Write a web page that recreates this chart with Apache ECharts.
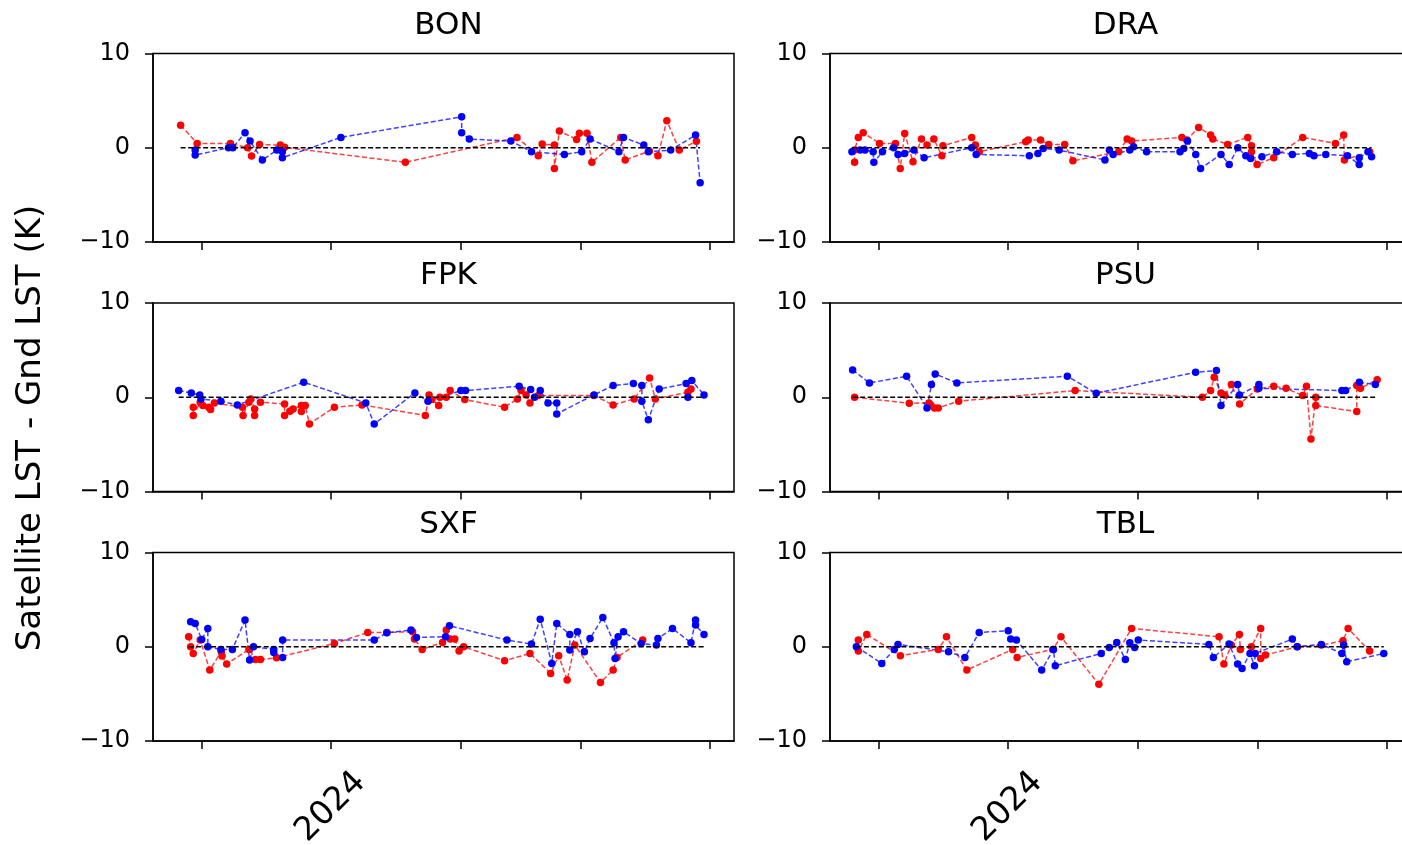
<!DOCTYPE html>
<html>
<head>
<meta charset="utf-8">
<title>Satellite LST - Gnd LST</title>
<script src="https://cdn.jsdelivr.net/npm/echarts@6/dist/echarts.min.js"></script>
<style>
  html, body { margin: 0; padding: 0; background: #fff; }
  #chart { width: 1402px; height: 845px; }
</style>
</head>
<body>
<div id="chart"></div>
<script>
// days are counted from 2024-01-01, values in K
var stations = ['BON', 'DRA', 'FPK', 'PSU', 'SXF', 'TBL'];

var bonRed = [[-108.3, 2.4], [-96.4, 0.46], [-72.4, 0.46], [-60.0, 0.0], [-57.2, -0.88], [-51.4, 0.35], [-36.5, 0.28], [-33.4, 0.04], [53.6, -1.55], [134.0, 1.1], [149.4, -0.85], [152.2, 0.39], [161.0, 0.28], [161.0, -2.2], [164.6, 1.77], [177.0, 0.88], [179.0, 1.55], [184.5, 1.55], [188.0, -1.55], [208.8, 1.1], [212.0, -1.3], [229.4, -0.35], [235.6, -0.85], [242.0, 2.86], [251.0, -0.25], [263.3, 0.7]];
var bonBlue = [[-97.8, -0.25], [-97.8, -0.78], [-73.8, 0.0], [-70.7, 0.0], [-61.9, 1.59], [-58.3, 0.71], [-49.4, -1.3], [-39.0, -0.25], [-35.0, -0.42], [-35.0, -1.06], [7.2, 1.1], [94.2, 3.29], [94.2, 1.59], [99.7, 0.92], [129.6, 0.71], [144.5, -0.42], [168.2, -0.71], [180.7, -0.42], [186.7, 0.92], [207.5, -0.42], [210.8, 1.1], [225.4, 0.28], [228.7, -0.42], [244.8, -0.25], [262.7, 1.34], [266.0, -3.71]];

var draRed = [[-110.5, -1.55], [-110.5, -0.25], [-107.8, 1.1], [-104.3, 1.59], [-92.5, 0.46], [-81.0, 0.46], [-77.6, -2.2], [-74.4, 1.52], [-68.4, -1.48], [-62.3, 0.92], [-58.3, 0.28], [-53.4, 0.92], [-47.6, -0.85], [-46.8, 0.21], [-26.1, 1.1], [-23.4, 0.28], [-20.7, -0.42], [12.8, 0.64], [14.6, 0.81], [23.5, 0.81], [29.4, 0.35], [40.9, 0.35], [46.8, -1.38], [79.8, -0.42], [85.9, 0.92], [89.1, 0.71], [125.3, 1.1], [128.8, 0.81], [137.4, 2.16], [146.0, 1.34], [147.6, 0.92], [158.3, 0.35], [172.8, 1.1], [175.5, 0.21], [175.5, -0.42], [179.5, -1.77], [191.5, -1.06], [212.4, 1.1], [236.0, 0.46], [241.9, 1.34], [242.4, -1.3], [260.6, -0.42]];
var draBlue = [[-112.4, -0.42], [-106.5, -0.25], [-103.0, -0.25], [-97.1, -0.42], [-96.6, -1.55], [-90.4, -0.42], [-82.4, 0.0], [-79.2, -0.71], [-74.4, -0.6], [-67.7, -0.25], [-60.4, -1.06], [-26.1, 0.0], [-22.9, -0.71], [15.4, -0.85], [21.6, -0.6], [25.4, -0.07], [36.9, -0.25], [69.9, -1.3], [73.1, -0.25], [75.8, -0.71], [87.8, -0.25], [90.5, 0.1], [99.9, -0.42], [124.0, -0.42], [126.7, -0.07], [129.4, 0.71], [135.3, -0.71], [138.8, -2.2], [153.5, -0.71], [159.4, -1.77], [165.6, 0.0], [171.4, -0.85], [174.9, -1.13], [183.0, -0.95], [193.6, -0.42], [204.9, -0.71], [217.2, -0.6], [220.5, -0.85], [229.0, -0.71], [244.6, -0.85], [253.1, -1.77], [253.1, -1.06], [259.4, -0.42], [262.0, -0.95]];

var fpkRed = [[-99.2, -1.06], [-99.2, -1.94], [-94.2, -0.53], [-92.3, -0.88], [-88.1, -1.06], [-86.7, -1.31], [-84.0, -0.6], [-63.8, -1.06], [-63.3, -1.94], [-59.1, -0.53], [-57.7, -0.18], [-55.0, -1.24], [-55.0, -1.94], [-50.8, -0.53], [-33.4, -0.71], [-33.4, -1.94], [-29.6, -1.48], [-27.3, -1.24], [-21.3, -0.88], [-21.3, -1.52], [-18.5, -0.88], [-15.5, -2.83], [2.5, -1.06], [22.4, -0.81], [68.0, -1.94], [70.7, 0.25], [72.7, -0.25], [77.6, -0.88], [78.5, 0.0], [83.1, 0.0], [85.9, 0.71], [96.4, -0.25], [125.1, -1.06], [134.3, -0.18], [137.0, 0.71], [140.6, 0.25], [143.4, -0.6], [149.4, 0.18], [189.5, 0.18], [203.3, -0.81], [218.5, -0.18], [229.6, 2.05], [233.7, -0.18], [257.2, 0.53], [259.4, 0.88]];
var fpkBlue = [[-109.7, 0.71], [-100.6, 0.46], [-94.5, 0.25], [-93.6, -0.18], [-79.3, -0.42], [-67.4, -0.81], [-19.6, 1.59], [25.1, -0.6], [31.2, -2.83], [60.5, 0.46], [69.9, -0.42], [93.6, 0.71], [97.0, 0.71], [135.6, 1.17], [143.9, 0.81], [146.7, 0.0], [150.8, 0.71], [156.4, -0.6], [162.7, -0.6], [162.7, -1.77], [189.5, 0.25], [203.3, 1.24], [217.9, 1.45], [224.0, 1.24], [224.0, -0.42], [228.7, -2.4], [236.5, 0.88], [255.9, 1.45], [257.2, 0.0], [260.0, 1.77], [268.8, 0.25]];

var psuRed = [[-110.5, 0.0], [-71.1, -0.64], [-56.9, -0.6], [-55.6, -0.81], [-52.9, -1.13], [-50.2, -1.13], [-35.5, -0.42], [48.4, 0.71], [140.1, 0.0], [146.0, 0.71], [148.6, 2.12], [153.5, 0.46], [156.2, 0.25], [161.0, 1.34], [166.9, -0.71], [179.7, 0.88], [191.5, 1.17], [200.4, 0.95], [212.4, 0.18], [215.1, 1.17], [218.3, -4.42], [221.8, 0.0], [221.8, -0.88], [251.3, -1.52], [251.3, 1.24], [254.0, 0.95], [266.0, 1.87]];
var psuBlue = [[-111.9, 2.9], [-99.8, 1.52], [-73.0, 2.23], [-58.3, -1.13], [-55.1, 1.34], [-52.4, 2.47], [-36.8, 1.52], [42.8, 2.23], [63.6, 0.42], [135.2, 2.65], [150.2, 2.83], [153.5, -0.88], [165.5, 1.34], [166.9, 0.25], [180.8, 1.34], [180.8, 0.95], [240.6, 0.71], [243.3, 0.71], [253.2, 1.59], [264.7, 1.34]];

var sxfRed = [[-102.5, 1.06], [-101.1, 0.0], [-99.2, -0.71], [-94.2, 0.71], [-87.3, -2.47], [-79.0, -0.53], [-78.5, -0.99], [-75.1, -1.84], [-59.1, -0.28], [-54.4, -1.34], [-50.8, -1.34], [-39.2, -1.17], [2.5, 0.35], [26.5, 1.52], [40.3, 1.52], [58.8, 1.59], [60.2, 0.81], [65.7, -0.28], [80.4, 0.46], [83.1, 1.77], [85.9, 0.81], [89.2, 0.81], [92.3, -0.46], [95.6, 0.0], [125.1, -1.48], [143.4, -0.71], [158.3, -2.83], [164.1, -0.95], [170.2, -3.53], [175.7, 0.18], [194.2, -3.78], [203.3, -2.47], [206.1, -1.13], [224.6, 0.71]];
var sxfBlue = [[-101.1, 2.65], [-97.8, 2.47], [-93.1, 0.78], [-88.7, 1.94], [-88.7, 0.0], [-79.3, -0.28], [-71.0, -0.28], [-61.9, 2.83], [-58.6, -1.41], [-55.8, 0.0], [-41.2, -0.28], [-41.2, -0.6], [-34.8, -1.13], [-34.8, 0.71], [31.2, 0.71], [40.3, 1.48], [57.7, 1.77], [61.6, 0.99], [82.6, 1.06], [85.4, 2.23], [126.8, 0.71], [144.5, 0.28], [150.8, 2.93], [159.1, -1.77], [162.7, 2.47], [172.1, 1.31], [172.1, -0.35], [177.6, 1.59], [182.6, -0.53], [186.7, 0.88], [195.9, 3.11], [203.9, 0.42], [204.7, -1.24], [206.9, 1.06], [210.8, 1.59], [223.5, 0.35], [234.5, 0.18], [235.6, 0.88], [246.1, 1.94], [259.4, 0.42], [262.7, 2.83], [262.7, 2.3], [268.8, 1.31]];

var tblRed = [[-107.8, 0.71], [-107.8, -0.46], [-101.7, 1.31], [-77.5, -0.95], [-50.2, -0.28], [-44.3, 1.06], [-29.6, -2.47], [3.4, -0.28], [6.6, -1.13], [32.3, -0.28], [38.2, 1.06], [65.5, -3.99], [89.1, 1.94], [152.1, 1.06], [155.6, -1.84], [160.9, 0.18], [166.8, 1.31], [167.4, -0.28], [175.4, 0.0], [182.1, 1.94], [182.1, -1.24], [185.6, -0.88], [208.4, 0.0], [225.8, 0.18], [241.4, 0.64], [245.1, 1.94], [260.6, -0.46]];
var tblBlue = [[-109.2, 0.0], [-90.9, -1.77], [-81.9, -0.28], [-79.2, 0.25], [-42.8, -0.53], [-31.0, -1.13], [-20.7, 1.52], [0.2, 1.7], [2.0, 0.81], [6.1, 0.71], [24.3, -2.47], [32.8, -0.28], [34.1, -2.01], [67.2, -0.71], [73.0, -0.07], [78.4, 0.46], [84.6, -1.34], [87.8, 0.42], [91.3, -0.07], [93.9, 0.71], [144.8, 0.25], [148.0, -1.13], [159.3, 0.28], [165.5, -1.84], [168.7, -2.3], [174.4, -0.71], [177.6, -2.01], [178.1, -0.71], [204.9, 0.81], [208.4, 0.0], [225.8, 0.25], [240.6, -0.71], [241.9, 0.18], [244.1, -1.59], [270.8, -0.71]];

var redSets = [bonRed, draRed, fpkRed, psuRed, sxfRed, tblRed];
var blueSets = [bonBlue, draBlue, fpkBlue, psuBlue, sxfBlue, tblBlue];

// x axis (days from 2024-01-01)
var xMinDay = -128.2;
var xMaxDay = 290.4;
var tickDays = [-93.3, 0, 93.2, 179.9, 272.7];
var labelDays = [0];
var labelText = ['2024'];

var FONT = 'DejaVu Sans';
var colLeft = [153, 830];
var rowTop = [53.5, 303, 552.5];
var W = 581, H = 188.5;

var dom = document.getElementById('chart');
var myChart = echarts.init(dom, null, { renderer: 'canvas' });

var grids = [], xAxes = [], yAxes = [], titles = [], series = [];

stations.forEach(function (name, i) {
  var col = i % 2, row = Math.floor(i / 2);
  grids.push({
    left: colLeft[col], top: rowTop[row], width: W, height: H,
    outerBoundsMode: 'none', containLabel: false,
    show: true, borderColor: '#000', borderWidth: 1.5, backgroundColor: 'transparent'
  });
  titles.push({
    text: name,
    left: colLeft[col] + W / 2,
    top: rowTop[row] - 48,
    textAlign: 'center',
    textStyle: { fontSize: 31, fontWeight: 'normal', color: '#000', fontFamily: FONT }
  });
  xAxes.push({
    type: 'value', gridIndex: i,
    min: xMinDay, max: xMaxDay,
    splitLine: { show: false },
    axisLine: { onZero: false, lineStyle: { color: '#000', width: 1.5 } },
    axisTick: { show: true, length: 8, lineStyle: { color: '#000', width: 1.5 },
      customValues: tickDays },
    axisLabel: {
      show: row === 2,
      customValues: labelDays,
      formatter: function (v) {
        var idx = labelDays.indexOf(v);
        return idx >= 0 ? labelText[idx] : '';
      },
      rotate: 45, align: 'center', verticalAlign: 'middle', margin: 66,
      fontSize: 33, color: '#000', fontFamily: FONT
    }
  });
  yAxes.push({
    type: 'value', gridIndex: i, min: -10, max: 10, interval: 10,
    splitLine: { show: false },
    axisLine: { show: true, onZero: false, lineStyle: { color: '#000', width: 1.5 } },
    axisTick: { show: true, length: 8, lineStyle: { color: '#000', width: 1.5 } },
    axisLabel: {
      fontSize: 24, color: '#000', fontFamily: FONT, margin: 23,
      formatter: function (v) { return String(v).replace('-', '\u2212'); }
    }
  });

  var red = redSets[i], blue = blueSets[i];
  [[red, '#ff0000'], [blue, '#0000ff']].forEach(function (pair) {
    series.push({
      type: 'line', xAxisIndex: i, yAxisIndex: i,
      data: pair[0],
      symbol: 'circle', symbolSize: 7.5, showSymbol: true,
      itemStyle: { color: pair[1] },
      lineStyle: { color: pair[1], width: 1.5, type: [5, 2.5], opacity: 0.75 },
      emphasis: { disabled: true },
      z: 2
    });
  });

  // zero reference line over the span of both series
  var allDays = red.concat(blue).map(function (p) { return p[0]; });
  var d0 = Math.min.apply(null, allDays), d1 = Math.max.apply(null, allDays);
  series.push({
    type: 'line', xAxisIndex: i, yAxisIndex: i,
    data: [[d0, 0], [d1, 0]],
    symbol: 'none',
    lineStyle: { color: '#000', width: 1.3, type: [5, 2.5] },
    emphasis: { disabled: true },
    z: 3
  });
});

var option = {
  animation: false,
  backgroundColor: '#fff',
  title: titles,
  grid: grids,
  xAxis: xAxes,
  yAxis: yAxes,
  series: series,
  graphic: [{
    type: 'text',
    x: 31, y: 428,
    rotation: Math.PI / 2,
    style: {
      text: 'Satellite LST - Gnd LST (K)',
      fontSize: 34, fontFamily: FONT, fill: '#000',
      align: 'center', verticalAlign: 'middle'
    }
  }]
};

if (option && typeof option === "object") {
  myChart.setOption(option, true);
  window.onresize = myChart.resize;
}
</script>
</body>
</html>
